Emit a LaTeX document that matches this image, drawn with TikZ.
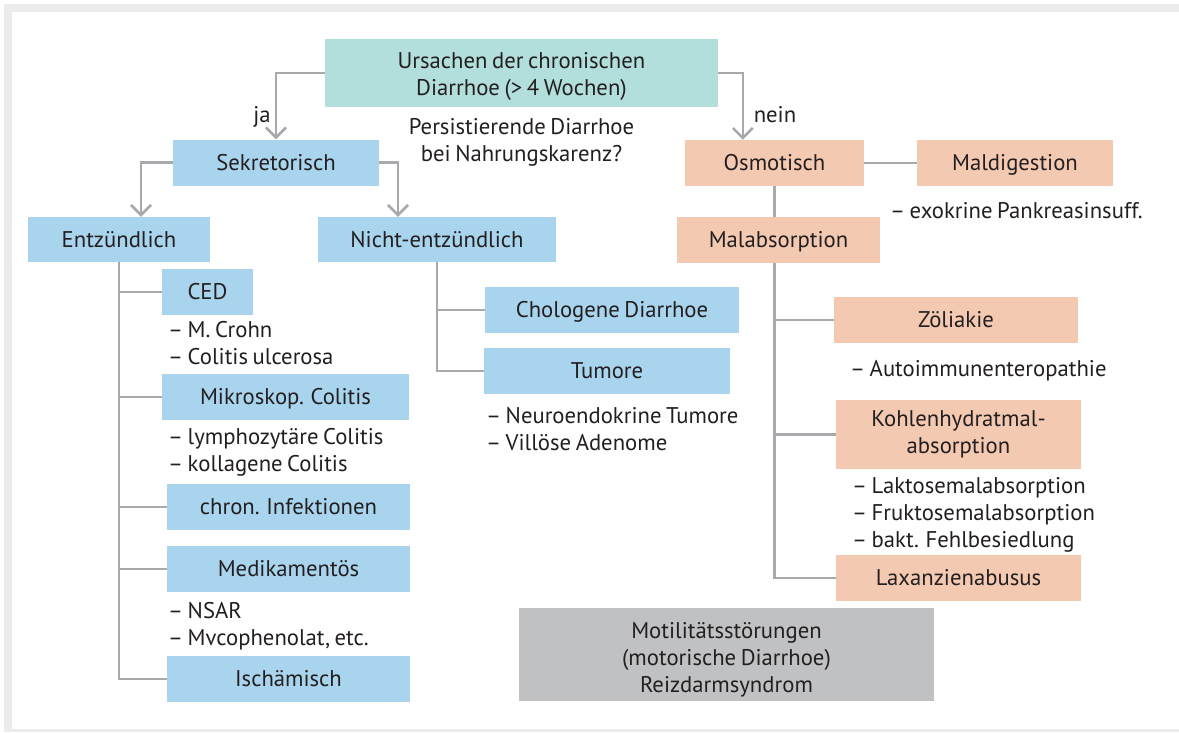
\documentclass[tikz,border=0pt]{standalone}
\usepackage{fontspec}
\setmainfont{PT Sans}[WordSpace=0.75]
\usetikzlibrary{arrows.meta}
\definecolor{boxblue}{RGB}{169,212,238}
\definecolor{boxsalmon}{RGB}{244,201,178}
\definecolor{boxteal}{RGB}{178,223,219}
\definecolor{boxgray}{RGB}{192,193,195}
\definecolor{linegray}{RGB}{167,169,172}
\definecolor{framegray}{RGB}{235,236,238}
\definecolor{txt}{RGB}{35,31,32}
\begin{document}
\begin{tikzpicture}[x=1pt,y=-1pt,
  every node/.style={font=\fontsize{22.7}{27}\selectfont, text=txt},
  box/.style={inner sep=0pt, minimum height=46pt, text height=15.5pt, text depth=0pt},
  mbox/.style={inner sep=0pt, align=center},
  bbox/.style={box, fill=boxblue},
  sbox/.style={box, fill=boxsalmon},
  item/.style={anchor=base west, inner sep=0pt},
  lbl/.style={anchor=base, inner sep=0pt},
  conn/.style={draw=linegray, line width=2.6pt},
  arr/.style={conn, -{Straight Barb[length=10pt,width=20pt]}}
]
% frame
\useasboundingbox (0,0) rectangle (1179,732);
\fill[white] (0,0) rectangle (1179,732);
\fill[framegray] (4,4) rectangle (1179,732);
\fill[white] (12,12) rectangle (1179,729);

% top
\node[mbox, fill=boxteal, minimum width=393pt, minimum height=68pt] (top) at (521.5,73) {\rule{0pt}{22pt}Ursachen der chronischen\\Diarrhoe (> 4 Wochen)};
\node[lbl] (q1) at (521.5,134) {Persistierende Diarrhoe};
\node[lbl] (q2) at (521.5,161) {bei Nahrungskarenz?};
\node[lbl] (ja) at (262,122) {ja};
\node[lbl] (nein) at (775,122) {nein};

% left side
\node[bbox, minimum width=206pt] (sek) at (276,162.5) {Sekretorisch};
\node[bbox, minimum width=182pt, minimum height=45pt] (entz) at (119,239.5) {Entzündlich};
\node[bbox, minimum width=238pt, minimum height=45pt] (nicht) at (437,239.5) {Nicht-entzündlich};

\node[bbox, minimum width=91pt] (ced) at (207.5,292) {CED};
\node[item] (ced1) at (168,337) {– M. Crohn};
\node[item] (ced2) at (168,364) {– Colitis ulcerosa};
\node[bbox, minimum width=247pt] (mikro) at (285.5,397) {Mikroskop. Colitis};
\node[item] (mik1) at (168,444) {– lymphozytäre Colitis};
\node[item] (mik2) at (168,471) {– kollagene Colitis};
\node[bbox, minimum width=243pt] (chron) at (288.5,507) {chron. Infektionen};
\node[bbox, minimum width=243pt] (medi) at (288.5,569) {Medikamentös};
\node[item] (med1) at (168,618) {– NSAR};
\node[item] (med2) at (168,645) {– Mvcophenolat, etc.};
\node[bbox, minimum width=243pt] (isch) at (288.5,679) {Ischämisch};

\node[bbox, minimum width=254pt] (chol) at (612,310) {Chologene Diarrhoe};
\node[bbox, minimum width=246pt] (tum) at (607,371) {Tumore};
\node[item] (tum1) at (486,423) {– Neuroendokrine Tumore};
\node[item] (tum2) at (486,450) {– Villöse Adenome};

% right side
\node[sbox, minimum width=179pt] (osm) at (774.5,163) {Osmotisch};
\node[sbox, minimum width=196pt] (mald) at (1015,163) {Maldigestion};
\node[item] (mal1) at (890,218) {– exokrine Pankreasinsuff.};
\node[sbox, minimum width=203pt] (malab) at (778.5,240) {Malabsorption};
\node[sbox, minimum width=244pt] (zoel) at (956,320) {Zöliakie};
\node[item] (zoe1) at (850,376) {– Autoimmunenteropathie};
\node[mbox, fill=boxsalmon, minimum width=245pt, minimum height=69pt] (kohl) at (958.5,434.5) {Kohlenhydratmal-\\absorption};
\node[item] (koh1) at (852,493) {– Laktosemalabsorption};
\node[item] (koh2) at (852,520) {– Fruktosemalabsorption};
\node[item] (koh3) at (852,547) {– bakt. Fehlbesiedlung};
\node[sbox, minimum width=245pt] (lax) at (958.5,578) {Laxanzienabusus};

\node[mbox, fill=boxgray, minimum width=415pt, minimum height=93pt] (moti) at (726.5,654.5) {\rule{0pt}{27pt}Motilitätsstörungen\\(motorische Diarrhoe)\\Reizdarmsyndrom};

% connectors
\draw[arr] (top.west) -| (sek.north);
\draw[arr] (top.east) -| ([xshift=58pt]osm.north west);
\draw[arr] (sek.west) -| ([xshift=22pt]entz.north);
\draw[arr] (sek.east) -| ([xshift=-39pt]nicht.north);

\draw[conn] (entz.south) |- (isch.west);
\foreach \n in {ced,mikro,chron,medi} \draw[conn] (entz.south |- \n.west) -- (\n.west);
\draw[conn] (nicht.south) |- (tum.west);
\draw[conn] (nicht.south |- chol.west) -- (chol.west);

\draw[conn] (osm.east) -- (mald.west);
\draw[conn] (osm.south) -- (osm.south |- malab.north);
\draw[conn] (osm.south |- malab.south) |- (lax.west);
\foreach \n in {zoel,kohl} \draw[conn] (osm.south |- \n.west) -- (\n.west);
\end{tikzpicture}
\end{document}
